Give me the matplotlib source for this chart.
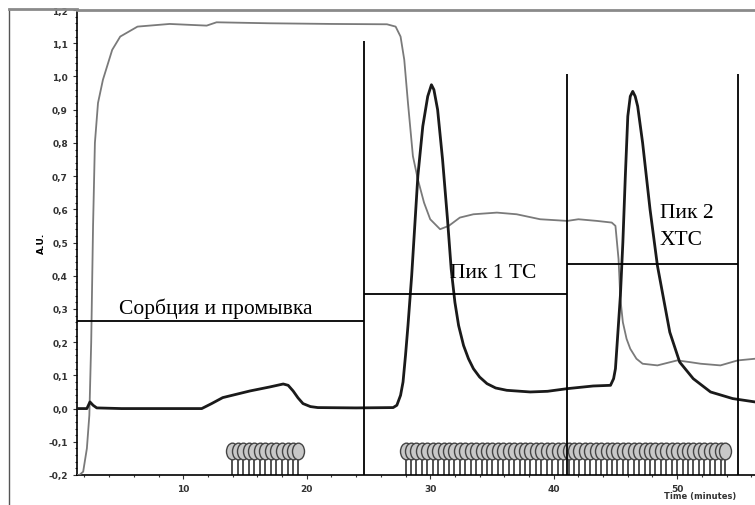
import matplotlib
matplotlib.use('Agg')
from matplotlib import pyplot as plt
from matplotlib.lines import Line2D
from matplotlib.path import Path
from matplotlib.transforms import Affine2D
from matplotlib.ticker import MultipleLocator

# gray trace (thin)
t_gray = [1.4, 1.6, 1.9, 2.2, 2.4, 2.55, 2.7, 2.85, 3.1, 3.5, 4.25, 4.9, 6.3, 8.9, 11.9, 12.7,
          17.0, 22.0, 26.5, 27.2, 27.6, 27.9, 28.2, 28.6, 29.0, 29.5, 30.0, 30.8, 31.5, 32.4,
          33.5, 35.4, 37.0, 38.9, 41.1, 42.0, 43.5, 44.7, 45.0, 45.25, 45.4, 45.6, 45.9, 46.2,
          46.7, 47.2, 48.4, 50.0, 51.0, 51.9, 53.5, 54.9, 56.3]
v_gray = [-0.2, -0.2, -0.19, -0.12, -0.02, 0.2, 0.55, 0.8, 0.92, 0.99, 1.08, 1.12, 1.15, 1.158,
          1.153, 1.163, 1.16, 1.158, 1.157, 1.15, 1.12, 1.05, 0.92, 0.76, 0.69, 0.62, 0.57,
          0.54, 0.55, 0.575, 0.585, 0.59, 0.585, 0.57, 0.565, 0.57, 0.565, 0.56, 0.55, 0.45,
          0.33, 0.26, 0.21, 0.18, 0.15, 0.135, 0.13, 0.145, 0.14, 0.135, 0.13, 0.145, 0.15]

# black trace (thick)
t_black = [1.4, 2.2, 2.45, 2.7, 3.0, 5.0, 11.5, 12.3, 13.2, 15.4, 17.0, 18.1, 18.5, 18.9, 19.3,
           19.7, 20.3, 20.9, 24.0, 27.0, 27.3, 27.6, 27.8, 28.0, 28.2, 28.5, 28.75, 29.0, 29.4,
           29.8, 30.1, 30.3, 30.6, 31.0, 31.4, 31.7, 32.0, 32.3, 32.7, 33.1, 33.5, 34.0, 34.6,
           35.3, 36.2, 38.1, 39.5, 41.1, 43.2, 44.6, 44.85, 45.0, 45.2, 45.4, 45.6, 45.8, 46.0,
           46.2, 46.4, 46.6, 46.8, 47.2, 47.8, 48.4, 48.9, 49.4, 50.2, 51.3, 52.7, 54.5, 56.3]
v_black = [0.0, 0.0, 0.02, 0.01, 0.002, 0.0, 0.0, 0.015, 0.033, 0.053, 0.065, 0.074, 0.07, 0.053,
           0.032, 0.015, 0.006, 0.003, 0.002, 0.003, 0.01, 0.04, 0.08, 0.16, 0.25, 0.4, 0.55, 0.70,
           0.85, 0.94, 0.975, 0.96, 0.90, 0.75, 0.57, 0.42, 0.32, 0.25, 0.19, 0.15, 0.12, 0.095,
           0.075, 0.062, 0.055, 0.05, 0.052, 0.06, 0.068, 0.07, 0.09, 0.12, 0.23, 0.34, 0.5, 0.70,
           0.88, 0.94, 0.955, 0.94, 0.91, 0.80, 0.60, 0.43, 0.33, 0.23, 0.14, 0.09, 0.05, 0.03, 0.02]

# fraction collector marks
frac_1 = [13.95, 14.4, 14.85, 15.3, 15.75, 16.2, 16.65, 17.1, 17.55, 18.0, 18.45, 18.9, 19.3]
frac_2 = [28.0, 28.44, 28.88, 29.32, 29.76, 30.2, 30.64, 31.08, 31.52, 31.96, 32.4, 32.84,
          33.28, 33.72, 34.16, 34.6, 35.04, 35.48, 35.92, 36.36, 36.8, 37.24, 37.68, 38.12,
          38.56, 39.0, 39.44, 39.88, 40.32, 40.76, 41.2, 41.64, 42.08, 42.52, 42.96, 43.4,
          43.84, 44.28, 44.72, 45.16, 45.6, 46.04, 46.48, 46.92, 47.36, 47.8, 48.24, 48.68,
          49.12, 49.56, 50.0, 50.44, 50.88, 51.32, 51.76, 52.2, 52.64, 53.08, 53.52, 53.9]
frac_top = -0.128

# zone boundaries and level bars
v_lines = [24.6, 41.1, 54.9]
v_tops = [1.107, 1.008, 1.008]
h_levels = [0.264, 0.345, 0.436]
h_starts = [1.4, 24.6, 41.1]
h_ends = [24.6, 41.1, 54.9]

labels = ['Сорбция и промывка', 'Пик 1 ТС', 'Пик 2', 'ХТС']
label_pos = [(12.6, 0.288), (35.1, 0.395), (48.6, 0.578), (48.6, 0.494)]
label_ha = ['center', 'center', 'left', 'left']

yticks = [-0.2, -0.1, 0.0, 0.1, 0.2, 0.3, 0.4, 0.5, 0.6, 0.7, 0.8, 0.9, 1.0, 1.1, 1.2]
ytick_labels = ['-0,2', '-0,1', '0,0', '0,1', '0,2', '0,3', '0,4', '0,5', '0,6', '0,7',
                '0,8', '0,9', '1,0', '1,1', '1,2']
xticks = [10, 20, 30, 40, 50]

fig = plt.figure(figsize=(7.55, 5.06), dpi=100)
ax = fig.add_axes([77 / 755, 30 / 506, 678 / 755, 465 / 506])

ax.plot(t_gray, v_gray, color='#7a7a7a', lw=1.3, zorder=3)
ax.plot(t_black, v_black, color='#1a1a1a', lw=2.0, zorder=4)

# tall oval marker for the fraction tubes
oval = Path.unit_circle().transformed(Affine2D().scale(0.72, 1.0))
for grp in (frac_1, frac_2):
    ax.vlines(grp, -0.2, frac_top, color='#333333', lw=1.2, zorder=2)
    ax.plot(grp, [frac_top] * len(grp), marker=oval, ls='none', ms=12, mfc='#c8c8c8',
            mec='#444444', mew=1.0, zorder=2)

ax.vlines(v_lines, -0.2, v_tops, color='black', lw=1.3, zorder=5)
ax.hlines(h_levels, h_starts, h_ends, color='black', lw=1.3, zorder=5)

for txt, (x, y), ha in zip(labels, label_pos, label_ha):
    ax.text(x, y, txt, family='Liberation Serif', fontsize=15.5, ha=ha, va='baseline',
            zorder=6)

ax.set_xlim(1.4, 56.3)
ax.set_ylim(-0.2, 1.2)
ax.set_yticks(yticks)
ax.set_yticklabels(ytick_labels)
ax.set_xticks(xticks)
ax.yaxis.set_minor_locator(MultipleLocator(0.02))
ax.xaxis.set_minor_locator(MultipleLocator(2))
ax.tick_params(axis='both', which='major', labelsize=6.5, length=3, width=0.8,
               colors='#333333', labelcolor='#333333')
ax.tick_params(axis='both', which='minor', length=1.5, width=0.8, colors='#333333')
for lab in ax.get_xticklabels() + ax.get_yticklabels():
    lab.set_fontweight('bold')

ax.spines['right'].set_visible(False)
ax.spines['top'].set_color('#8a8a8a')
ax.spines['top'].set_linewidth(2)
ax.spines['left'].set_linewidth(1.2)
ax.spines['bottom'].set_linewidth(1.2)

ax.set_ylabel('A.U.', fontsize=6.5, fontweight='bold', labelpad=2)
fig.text(700 / 755, 1 - 497 / 506, 'Time (minutes)', fontsize=6, fontweight='bold',
         ha='center', va='center', color='#333333')

# outer frame edge on the left
fig.add_artist(Line2D([9 / 755, 9 / 755], [0, 1 - 10 / 506], transform=fig.transFigure,
                      color='#555555', lw=1.0))
fig.add_artist(Line2D([9 / 755, 77 / 755], [1 - 10 / 506, 1 - 10 / 506],
                      transform=fig.transFigure, color='#8a8a8a', lw=2))

plt.savefig('out.png', dpi=100)
